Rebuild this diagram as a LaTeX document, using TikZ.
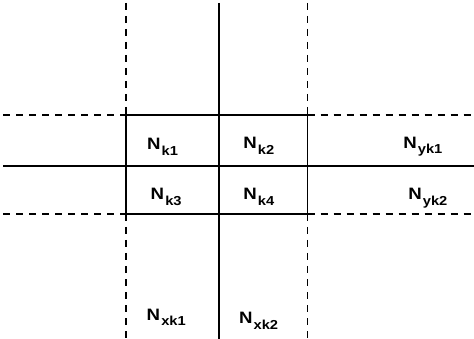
\documentclass[tikz,border=0pt]{standalone}
\usepackage{fontspec}
\setmainfont{Liberation Sans}[BoldFont=Liberation Sans Bold]
\newcommand\Nlab[1]{\scalebox{1.13}[1]{\fontsize{16.5pt}{16.5pt}\selectfont\bfseries N\kern1pt\raisebox{-5.7pt}{\fontsize{13pt}{13pt}\selectfont\bfseries #1}}}
\begin{document}
\begin{tikzpicture}[x=1pt,y=-1pt,
  solidline/.style={line width=1.3pt},
  dashline/.style={line width=1.3pt,dash pattern=on 7pt off 6pt},
  lab/.style={anchor=base west,inner sep=0pt,outer sep=0pt}]
\useasboundingbox (0,0) rectangle (474,339);
% grid coordinates
\coordinate (L) at (126,115);
\coordinate (R) at (307.5,115);
\coordinate (LB) at (126,214);
\coordinate (RB) at (307.5,214);
% vertical lines
\draw[dashline] (126,3) -- (L);
\draw[solidline] (L) -- (LB);
\draw[dashline] (LB) -- (126,339);
\draw[solidline] (219,3) -- (219,339);
\draw[dashline] (307.5,3) -- (R);
\draw[solidline] (R) -- (RB);
\draw[dashline] (RB) -- (307.5,339);
% horizontal lines
\draw[dashline] (3,115) -- (L);
\draw[solidline] (L) -- (R);
\draw[dashline] (R) -- (474,115);
\draw[solidline] (3,166) -- (474,166);
\draw[dashline] (3,214) -- (LB);
\draw[solidline] (LB) -- (RB);
\draw[dashline] (RB) -- (474,214);
% labels
\node[lab] (nk1) at (147,150) {\Nlab{k1}};
\node[lab] (nk2) at (243.3,148.5) {\Nlab{k2}};
\node[lab] (nk3) at (150.7,200) {\Nlab{k3}};
\node[lab] (nk4) at (243.3,200) {\Nlab{k4}};
\node[lab] (nyk1) at (403.3,148.3) {\Nlab{yk1}};
\node[lab] (nyk2) at (408.3,200) {\Nlab{yk2}};
\node[lab] (nxk1) at (146.7,320) {\Nlab{xk1}};
\node[lab] (nxk2) at (239,323.3) {\Nlab{xk2}};
\end{tikzpicture}
\end{document}
